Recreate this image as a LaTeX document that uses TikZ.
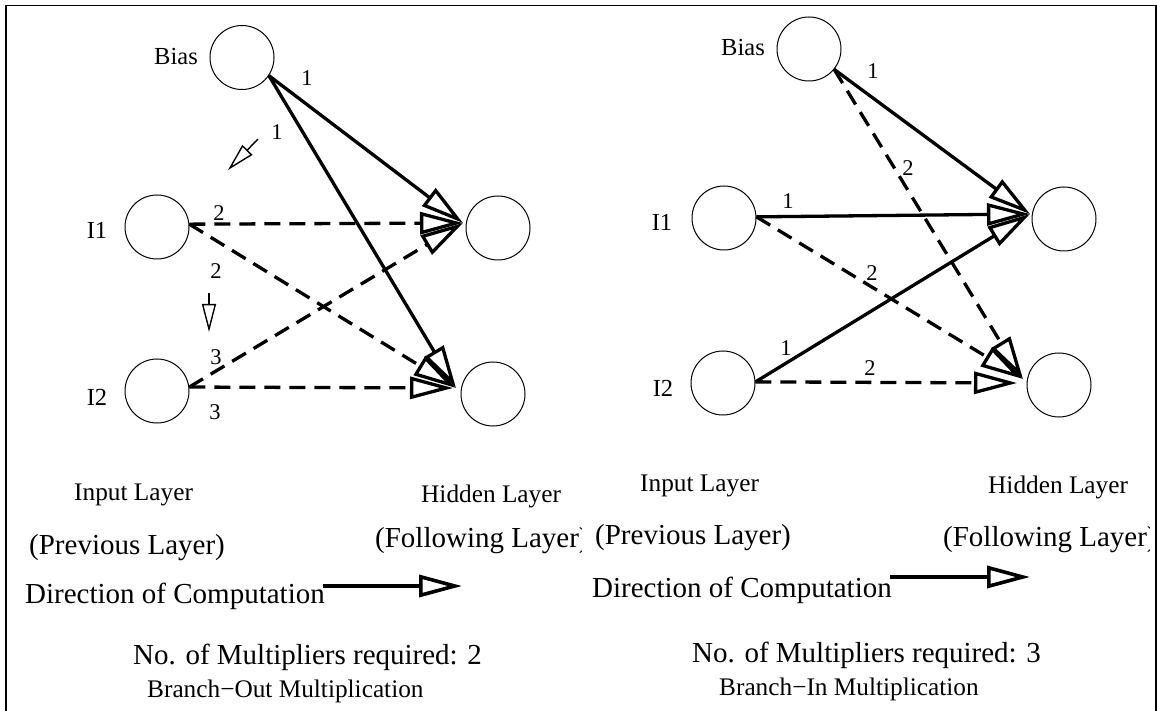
\documentclass[tikz,border=0pt]{standalone}
\usepackage{fontspec}
\setmainfont{Liberation Serif}
\usetikzlibrary{arrows.meta}
\begin{document}
\begin{tikzpicture}[x=1pt,y=-1pt,
  neuron/.style={circle,draw,line width=1pt,minimum size=64pt,inner sep=0pt},
  lbl/.style={inner sep=0pt,font=\fontsize{24.5}{28}\selectfont},
  num/.style={inner sep=0pt,font=\fontsize{22.5}{26}\selectfont},
  bigtext/.style={inner sep=0pt,anchor=base west,font=\fontsize{29}{34}\selectfont},
  smalltext/.style={inner sep=0pt,anchor=base west,font=\fontsize{25.3}{30}\selectfont},
  conn/.style={line width=3.3pt,-{Triangle[open,length=43pt,width=22pt]}},
  dconn/.style={conn,dash pattern=on 16pt off 9pt},
  hint/.style={line width=1.4pt,-{Triangle[open,length=28pt,width=14pt]}},
]
\useasboundingbox (0,0) rectangle (1157,711);
% open frame
\draw[line width=1.1pt] (6,712) -- (6,5.5) -- (1156,5.5) -- (1156,712);

% ---------------- branch-out network ----------------
\node[neuron] (lb)  at (242,57.5) {};
\node[neuron] (li1) at (157,227) {};
\node[neuron] (li2) at (157,391) {};
\node[neuron] (lh1) at (498,228) {};
\node[neuron] (lh2) at (493,394) {};

\node[lbl] (lbt)  at (176,57)  {Bias};
\node[lbl] (li1t) at (97,230)  {I1};
\node[lbl] (li2t) at (97,397)  {I2};

\coordinate (lh1p) at (463,223);
\coordinate (lh2p) at (456,388);
\coordinate (lh2q) at (453,388);

\draw[conn]  (lb.-34) -- (lh1p);
\draw[conn]  (lb.-34) -- (lh2p);
\draw[dconn] (li1.5) -- (lh1p);
\draw[dconn] (li1.5) -- (lh2p);
\draw[dconn] (li2.7) -- (lh1p);
\draw[dconn] (li2.7) -- (lh2q);

\node[num] (ln1) at (307,78)  {1};
\node[num] (ln2) at (277,132) {1};
\node[num] (ln3) at (219,213) {2};
\node[num] (ln4) at (216,271) {2};
\node[num] (ln5) at (216,357) {3};
\node[num] (ln6) at (215,412) {3};

\coordinate (ha1) at (258,139);
\coordinate (ha2) at (228,170);
\coordinate (hb1) at (209,293);
\coordinate (hb2) at (209,332);
\draw[hint] (ha1) -- (ha2);
\draw[hint] (hb1) -- (hb2);

\node[smalltext] (lin)  at (74,500)  {Input Layer};
\node[bigtext]   (lprv) at (29,554)  {(Previous Layer)};
\node[bigtext]   (ldir) at (25,603)  {Direction of Computation};
\node[bigtext]   (lno)  at (133,664) {No. of Multipliers required: 2};
\node[smalltext] (lbr)  at (147,697) {Branch−Out Multiplication};
\node[smalltext] (lhid) at (421,502) {Hidden Layer};
\begin{scope}
  \clip (0,0) rectangle (581,711);
  \node[bigtext] (lfol) at (375,547) {(Following Layer)};
\end{scope}
\coordinate (lda) at (323,586);
\coordinate (ldb) at (462,586);
\draw[conn,line width=3.6pt] (lda) -- (ldb);

% ---------------- branch-in network ----------------
\node[neuron] (rb)  at (809,49) {};
\node[neuron] (ri1) at (724,218) {};
\node[neuron] (ri2) at (723,383) {};
\node[neuron] (rh1) at (1064,219) {};
\node[neuron] (rh2) at (1059,385) {};

\node[lbl] (rbt)  at (743,48)  {Bias};
\node[lbl] (ri1t) at (662,222) {I1};
\node[lbl] (ri2t) at (663,388) {I2};

\coordinate (rh1p) at (1030,214);
\coordinate (rh2p) at (1023,379);
\coordinate (rh2q) at (1017,383);

\draw[conn]  (rb.-39) -- (rh1p);
\draw[dconn] (rb.-39) -- (rh2p);
\draw[conn]  (ri1.2) -- (rh1p);
\draw[dconn] (ri1.2) -- (rh2p);
\draw[conn]  (ri2.2) -- (rh1p);
\draw[dconn] (ri2.2) -- (rh2q);

\node[num] (rn1) at (873,71)  {1};
\node[num] (rn2) at (908,168) {2};
\node[num] (rn3) at (788,201) {1};
\node[num] (rn4) at (872,273) {2};
\node[num] (rn5) at (786,348) {1};
\node[num] (rn6) at (870,368) {2};

\node[smalltext] (rin)  at (640,491) {Input Layer};
\node[bigtext]   (rprv) at (595,544) {(Previous Layer)};
\node[bigtext]   (rdir) at (592,597) {Direction of Computation};
\node[bigtext]   (rno)  at (692,662) {No. of Multipliers required: 3};
\node[smalltext] (rbr)  at (719,695) {Branch−In Multiplication};
\node[smalltext] (rhid) at (988,493) {Hidden Layer};
\begin{scope}
  \clip (0,0) rectangle (1149,711);
  \node[bigtext] (rfol) at (943,546) {(Following Layer)};
\end{scope}
\coordinate (rda) at (890,577);
\coordinate (rdb) at (1030,577);
\draw[conn,line width=3.6pt] (rda) -- (rdb);
\end{tikzpicture}
\end{document}
